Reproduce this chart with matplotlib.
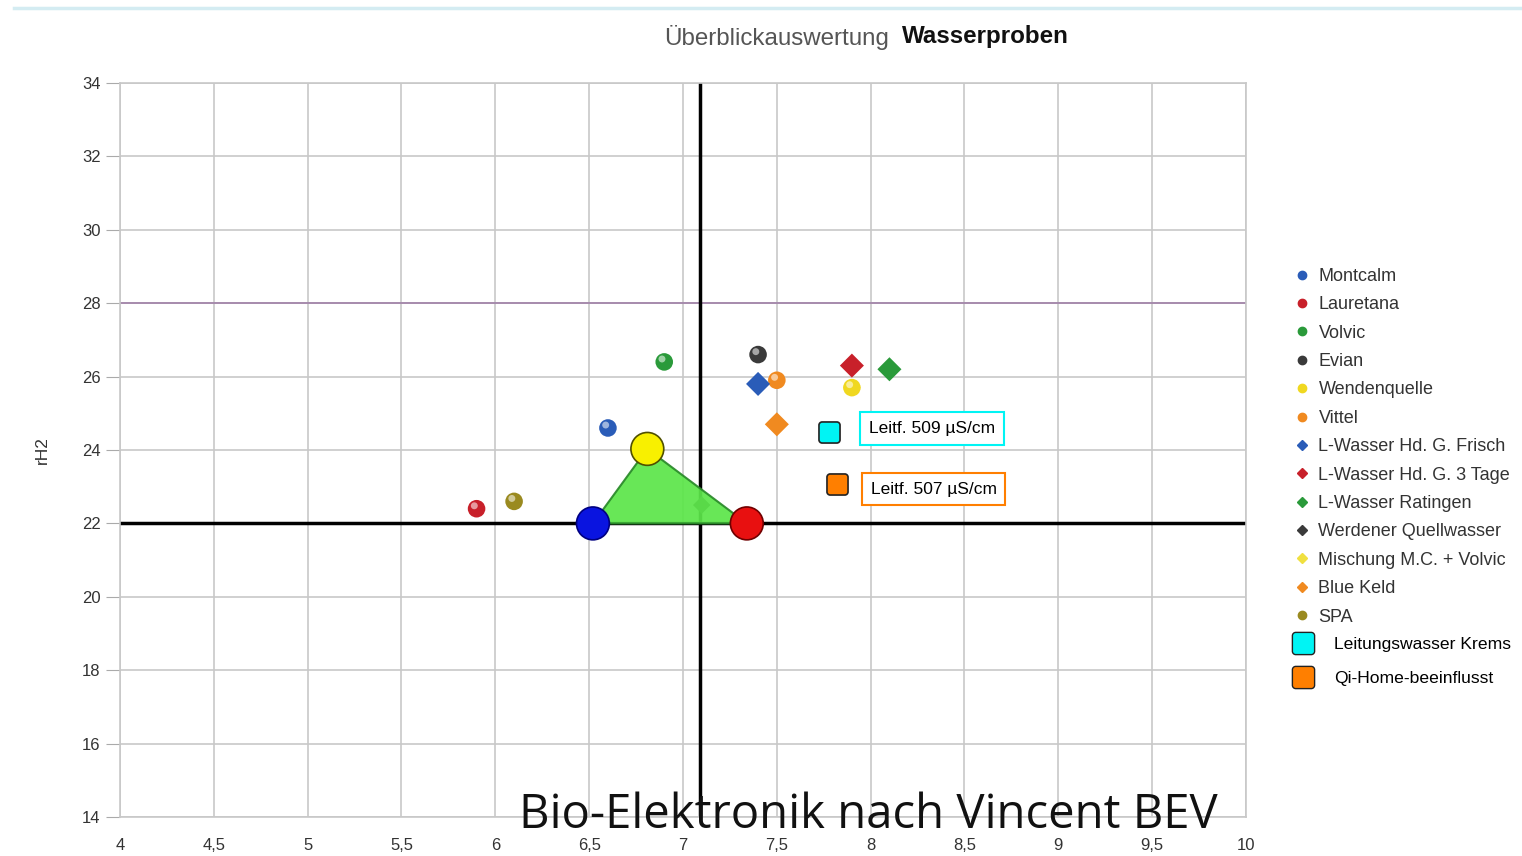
import matplotlib
matplotlib.use("Agg")
import matplotlib.pyplot as plt
from matplotlib.lines import Line2D
from matplotlib.patches import Polygon
from matplotlib.path import Path

# ---------------- data ----------------
series_names = ["Montcalm", "Lauretana", "Volvic", "Evian", "Wendenquelle", "Vittel",
                "L-Wasser Hd. G. Frisch", "L-Wasser Hd. G. 3 Tage", "L-Wasser Ratingen",
                "Werdener Quellwasser", "Mischung M.C. + Volvic", "Blue Keld", "SPA"]
series_x = [6.6, 5.9, 6.9, 7.4, 7.9, 7.5, 7.4, 7.9, 8.1, 7.1, 7.9, 7.5, 6.1]
series_y = [24.6, 22.4, 26.4, 26.6, 25.7, 25.9, 25.8, 26.3, 26.2, 22.5, 25.7, 24.7, 22.6]
series_colors = ["#2a5cb8", "#c8202a", "#2a9a3a", "#3a3a3a", "#f0d820", "#f08a20",
                 "#2a5cb8", "#c8202a", "#2a9a3a", "#3a3a3a", "#f0e040", "#f08a20", "#9a8a20"]
series_markers = ["o", "o", "o", "o", "o", "o", "D", "D", "D", "D", "D", "D", "o"]

triangle_x = [6.52, 6.81, 7.34]
triangle_y = [22.0, 24.03, 22.0]
triangle_colors = ["#0a14e0", "#f8f000", "#e81010"]

krems_names = ["Leitungswasser Krems", "Qi-Home-beeinflusst"]
krems_x = [7.78, 7.82]
krems_y = [24.5, 23.07]
krems_colors = ["#00f4f4", "#ff7f00"]
krems_labels = ["Leitf. 509 µS/cm", "Leitf. 507 µS/cm"]
krems_label_x = [7.99, 8.0]
krems_label_y = [24.59, 22.93]

ref_h = 22.0
ref_v = 7.09
ref_purple = 28.0

x_ticks = [4, 4.5, 5, 5.5, 6, 6.5, 7, 7.5, 8, 8.5, 9, 9.5, 10]
x_ticklabels = ["4", "4,5", "5", "5,5", "6", "6,5", "7", "7,5", "8", "8,5", "9", "9,5", "10"]
y_ticks = [14, 16, 18, 20, 22, 24, 26, 28, 30, 32, 34]


def rounded_square(r=0.3):
    k = 0.5523 * r
    a = 1.0
    verts = [
        (-a + r, -a), (a - r, -a),
        (a - r + k, -a), (a, -a + r - k), (a, -a + r),
        (a, a - r),
        (a, a - r + k), (a - r + k, a), (a - r, a),
        (-a + r, a),
        (-a + r - k, a), (-a, a - r + k), (-a, a - r),
        (-a, -a + r),
        (-a, -a + r - k), (-a + r - k, -a), (-a + r, -a),
        (-a + r, -a),
    ]
    codes = [Path.MOVETO, Path.LINETO,
             Path.CURVE4, Path.CURVE4, Path.CURVE4,
             Path.LINETO,
             Path.CURVE4, Path.CURVE4, Path.CURVE4,
             Path.LINETO,
             Path.CURVE4, Path.CURVE4, Path.CURVE4,
             Path.LINETO,
             Path.CURVE4, Path.CURVE4, Path.CURVE4,
             Path.CLOSEPOLY]
    return Path(verts, codes)


rsq = rounded_square()

# ---------------- figure ----------------
fig = plt.figure(figsize=(15.22, 8.56), dpi=100)
ax = fig.add_axes([120/1522, 1-817/856, (1246-120)/1522, (817-83)/856])
ax.set_xlim(4, 10)
ax.set_ylim(14, 34)

ax.set_xticks(x_ticks)
ax.set_xticklabels(x_ticklabels)
ax.set_yticks(y_ticks)
for lab in ax.get_xticklabels() + ax.get_yticklabels():
    lab.set_family(["Liberation Sans", "DejaVu Sans"])
    lab.set_fontsize(12)
    lab.set_color("#333333")
ax.tick_params(axis="y", length=10, color="#aaaaaa", pad=4)
ax.tick_params(axis="x", length=0, pad=15)
ax.grid(True, color="#c8c8c8", linewidth=1.2)
ax.set_axisbelow(True)
for s in ax.spines.values():
    s.set_color("#c8c8c8")
    s.set_linewidth(1.2)

ax.set_ylabel("rH2", fontsize=12.5, color="#333333",
              family=["Liberation Sans", "DejaVu Sans"])
ax.yaxis.set_label_coords(-70/1126, 0.5)

# reference lines
ax.axhline(ref_purple, color="#a080a8", linewidth=1.2, zorder=1)
ax.axhline(ref_h, color="black", linewidth=2.5, zorder=2)
ax.axvline(ref_v, color="black", linewidth=2.5, zorder=2)

# series
handles = []
for name, x, y, c, m in zip(series_names, series_x, series_y, series_colors, series_markers):
    hidden = name in ("Werdener Quellwasser", "Mischung M.C. + Volvic")
    z = 3 if hidden else 6
    if m == "o":
        ax.scatter([x], [y], s=160, color=c, edgecolors="none", zorder=z)
        ax.scatter([x - 0.012], [y + 0.08], s=25, color="white", alpha=0.55,
                   edgecolors="none", zorder=z + 0.1)
    else:
        ax.scatter([x], [y], s=80 if hidden else 150, marker="D", color=c,
                   edgecolors="none", zorder=z)
    handles.append(Line2D([], [], linestyle="none", marker=m, color=c,
                          markersize=6 if m == "o" else 5))

# triangle
tri = Polygon(list(zip(triangle_x, triangle_y)), closed=True, facecolor="#5ce64a",
              edgecolor="#2a8a2a", linewidth=1.5, alpha=0.93, zorder=4)
ax.add_patch(tri)
ax.scatter(triangle_x, triangle_y, s=560, color=triangle_colors,
           edgecolors=["#000080", "#505000", "#700000"], linewidths=1.2, zorder=7)

# Krems squares + annotations
khandles = []
for name, x, y, c, lx, ly, lab in zip(krems_names, krems_x, krems_y, krems_colors,
                                     krems_label_x, krems_label_y, krems_labels):
    ax.scatter([x], [y], s=230, marker=rsq, color=c, edgecolors="#222222",
               linewidths=1.2, zorder=8)
    ax.text(lx, ly, lab, fontsize=12.5, color="black", va="center", ha="left",
            family=["Liberation Sans", "DejaVu Sans"],
            bbox=dict(boxstyle="square,pad=0.5", facecolor="white",
                      edgecolor=c, linewidth=1.5), zorder=9)
    khandles.append(Line2D([], [], linestyle="none", marker=rsq, markersize=16,
                           markerfacecolor=c, markeredgecolor="#222222"))

leg1 = fig.legend(handles, series_names, loc="upper left",
                  bbox_to_anchor=(1295/1522, 1-268/856), frameon=False,
                  prop={"family": ["Liberation Sans", "DejaVu Sans"], "size": 13},
                  labelspacing=0.63, handlelength=0.8, handletextpad=0.5,
                  borderaxespad=0, borderpad=0)
for t in leg1.get_texts():
    t.set_color("#333333")
leg2 = fig.legend(khandles, krems_names, loc="upper left",
                  bbox_to_anchor=(1294/1522, 1-637/856), frameon=False,
                  prop={"family": ["Liberation Sans", "DejaVu Sans"], "size": 12.6},
                  labelspacing=1.05, handlelength=1.0, handletextpad=1.3,
                  borderaxespad=0, borderpad=0)

# title
fig.text(889/1522, 1-37/856, "Überblickauswertung", ha="right", va="center",
         fontsize=17.4, color="#555555", family=["Liberation Sans", "DejaVu Sans"])
fig.text(902/1522, 1-37/856, "Wasserproben", ha="left", va="center",
         fontsize=17.4, color="#111111", fontweight="bold",
         family=["Liberation Sans", "DejaVu Sans"])

# top line
fig.add_artist(Line2D([14/1522, 1520/1522], [1-8/856, 1-8/856],
                      color="#d4ecf2", linewidth=2.5))

# watermark
fig.text(868/1522, 1-815/856, "Bio-Elektronik nach Vincent BEV", ha="center",
         va="center", fontsize=34, color="#111111", fontweight="medium",
         family=["Open Sans", "DejaVu Sans"], zorder=20)

fig.savefig("out.png", dpi=100)
